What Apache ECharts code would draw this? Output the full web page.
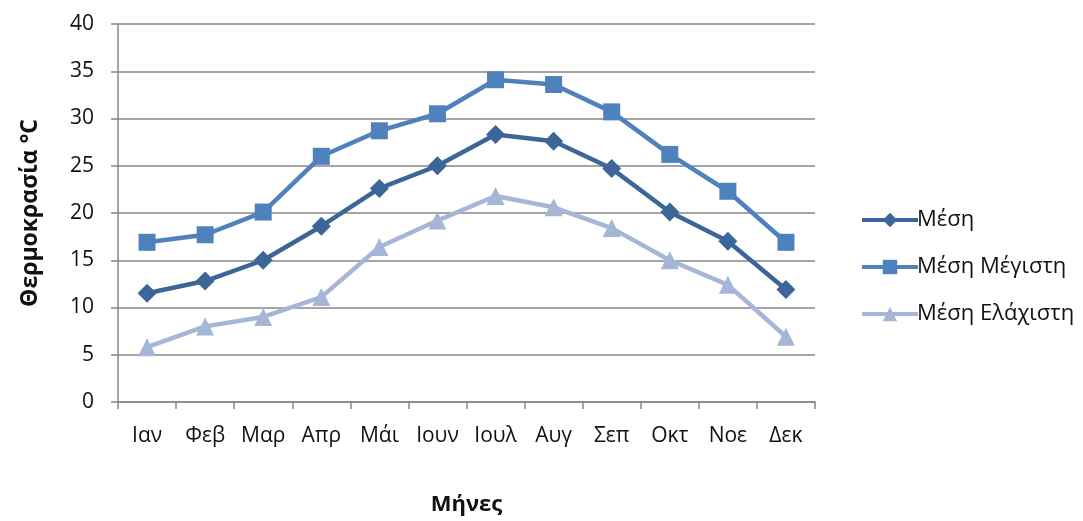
<!DOCTYPE html>
<html>
<head>
<meta charset="utf-8">
<script src="https://cdn.jsdelivr.net/npm/echarts@6/dist/echarts.min.js"></script>
<style>html,body{margin:0;padding:0;background:#fff}#c{width:1083px;height:521px}</style>
</head>
<body>
<div id="c"></div>
<script>
const categories = ['Ιαν','Φεβ','Μαρ','Απρ','Μάι','Ιουν','Ιουλ','Αυγ','Σεπ','Οκτ','Νοε','Δεκ'];
const mesi = [11.5, 12.8, 15.0, 18.6, 22.6, 25.0, 28.3, 27.6, 24.7, 20.1, 17.0, 11.9];
const mesiMegisti = [16.9, 17.7, 20.1, 26.0, 28.7, 30.5, 34.1, 33.6, 30.7, 26.2, 22.3, 16.9];
const mesiElaxisti = [5.8, 8.0, 9.0, 11.1, 16.4, 19.2, 21.8, 20.6, 18.4, 15.0, 12.4, 6.9];
const seriesNames = ['Μέση', 'Μέση Μέγιστη', 'Μέση Ελάχιστη'];

const font = '"Open Sans", "Noto Sans", sans-serif';
const chart = echarts.init(document.getElementById('c'));
chart.setOption({
  animation: false,
  textStyle: {fontFamily: font},
  grid: {left: 118, right: 268, top: 24, bottom: 114},
  legend: {
    orient: 'vertical', left: 855, top: 204, itemGap: 25,
    itemWidth: 56, itemHeight: 18,
    lineStyle: {width: 4},
    textStyle: {fontSize: 22, color: '#111', fontFamily: font, padding: [0,0,0,-6]},
    data: seriesNames
  },
  xAxis: {
    type: 'category', data: categories, boundaryGap: true,
    name: 'Μήνες', nameLocation: 'middle', nameGap: 92,
    nameTextStyle: {fontSize: 22, fontWeight: 'bold', color: '#111', fontFamily: font},
    axisLine: {lineStyle: {color: '#878787', width: 1.5}},
    axisTick: {show: true, length: 7, lineStyle: {color: '#878787', width: 1.5}},
    axisLabel: {fontSize: 21, color: '#111', margin: 24, fontFamily: font}
  },
  yAxis: {
    type: 'value', min: 0, max: 40, interval: 5,
    name: 'Θερμοκρασία °C', nameLocation: 'middle', nameGap: 76, nameRotate: 90,
    nameTextStyle: {fontSize: 23, fontWeight: 'bold', color: '#111', fontFamily: font},
    axisLine: {show: true, lineStyle: {color: '#878787', width: 1.5}},
    axisTick: {show: true, length: 7, lineStyle: {color: '#878787', width: 1.5}},
    axisLabel: {fontSize: 21, color: '#111', margin: 24, fontFamily: font},
    splitLine: {lineStyle: {color: '#878787', width: 1.5}}
  },
  series: [
    {name: seriesNames[0], type: 'line', data: mesi, symbol: 'diamond', symbolSize: 19,
     lineStyle: {width: 4.5, color: '#3C6697'}, itemStyle: {color: '#3C6697'}},
    {name: seriesNames[1], type: 'line', data: mesiMegisti, symbol: 'rect', symbolSize: 17,
     lineStyle: {width: 4.5, color: '#4F81BD'}, itemStyle: {color: '#4F81BD'}},
    {name: seriesNames[2], type: 'line', data: mesiElaxisti, symbol: 'triangle', symbolSize: 18,
     lineStyle: {width: 4.5, color: '#A5B6D6'}, itemStyle: {color: '#A5B6D6'}}
  ]
});
</script>
</body>
</html>
